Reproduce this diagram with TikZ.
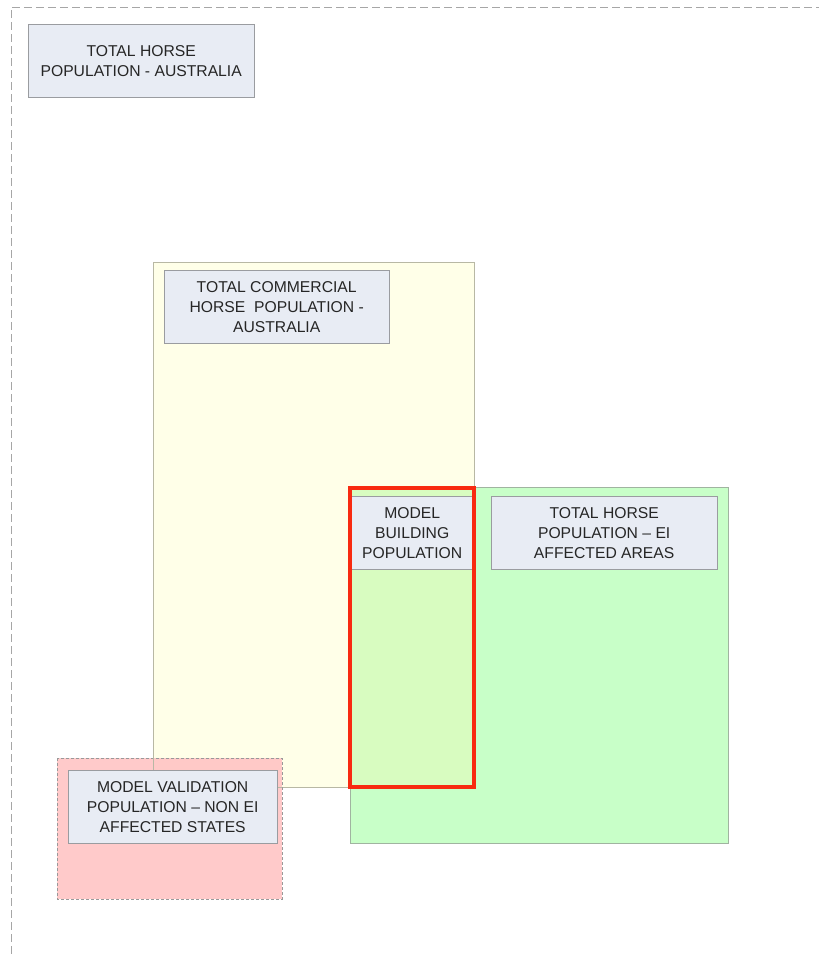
\documentclass[tikz,border=0pt]{standalone}
\usepackage{fontspec}
\setmainfont{Liberation Sans}
\usepackage{xcolor}
\usetikzlibrary{positioning}
\definecolor{labelfill}{HTML}{E8ECF4}
\definecolor{labelline}{HTML}{9A9CA0}
\definecolor{commfill}{HTML}{FFFFE8}
\definecolor{commline}{HTML}{B8B8A4}
\definecolor{eifill}{HTML}{C8FFC8}
\definecolor{eiline}{HTML}{A0B4A0}
\definecolor{bothfill}{HTML}{D8FCC0}
\definecolor{valfill}{HTML}{FFC4C4}
\definecolor{modelred}{HTML}{F82A10}

\begin{document}
\begin{tikzpicture}[x=1pt, y=-1pt,
  lbl/.style={draw=labelline, fill=labelfill, align=center, inner sep=0pt, text=black!85,
    anchor=north west, minimum height=73pt, font=\fontsize{15.7}{20}\selectfont}]
  \useasboundingbox (0,0) rectangle (819,954);
  % outer frame, cut by the page
  \draw[gray!70, dash pattern=on 8pt off 4pt] (11,954) |- (819,7);
  % population areas
  \filldraw[draw=commline, fill=commfill] (153,262) rectangle (474,787);
  \filldraw[draw=eiline, fill=eifill] (350,487) rectangle (728,843);
  \fill[bothfill] (350,487) rectangle (474,787);
  \filldraw[draw=gray!80, fill=valfill, fill opacity=0.9, dash pattern=on 3pt off 2pt]
    (57,758) rectangle (282,899);
  \draw[commline] (153,758) -- (153,787) -- (282,787);
  % labels
  \node[lbl, minimum width=226pt] (ausall) at (28,24) {TOTAL HORSE\\POPULATION - AUSTRALIA};
  \node[lbl, minimum width=225pt] (auscomm) at (164,270) {TOTAL COMMERCIAL\\HORSE\ \ POPULATION -\\AUSTRALIA};
  \node[lbl, minimum width=124pt] (build) at (350,496) {MODEL\\BUILDING\\POPULATION};
  \node[lbl, minimum width=226pt] (eiarea) at (491,496) {TOTAL HORSE\\POPULATION – EI\\AFFECTED AREAS};
  \node[lbl, minimum width=209pt] (valid) at (68,770) {MODEL VALIDATION\\POPULATION – NON EI\\AFFECTED STATES};
  % model building outline on top
  \draw[modelred, line width=3.5pt] (350,488) rectangle (474,787);
\end{tikzpicture}
\end{document}
